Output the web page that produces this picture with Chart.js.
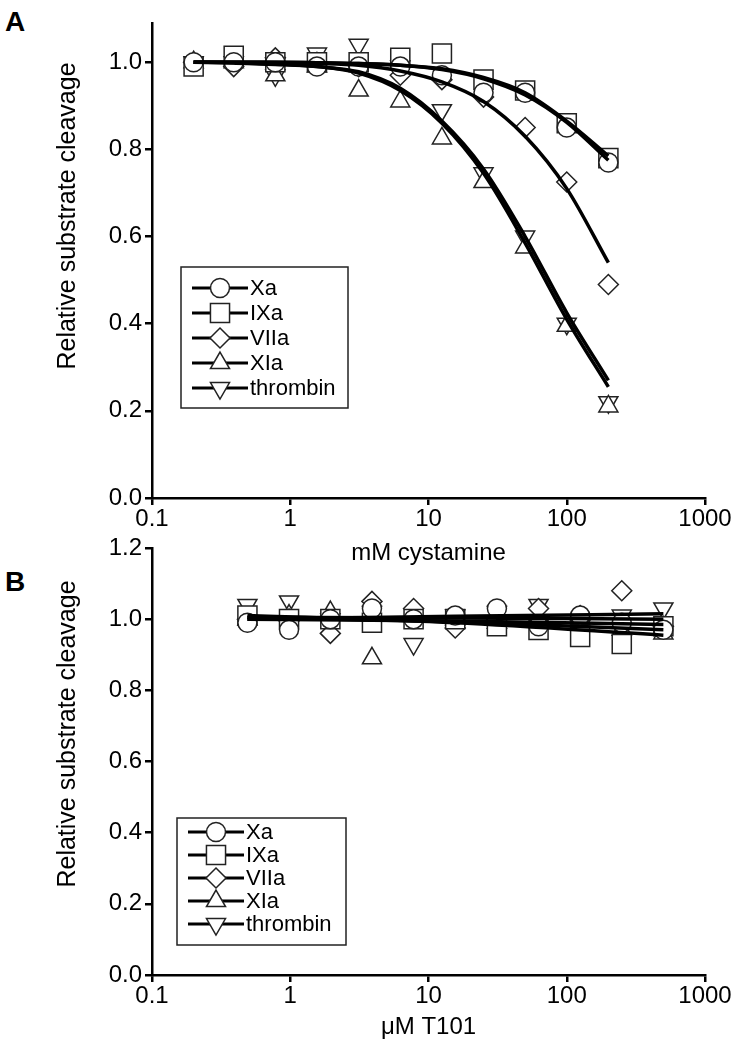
<!DOCTYPE html>
<html>
<head>
<meta charset="utf-8">
<script src="https://cdn.jsdelivr.net/npm/chart.js@4.4.0/dist/chart.umd.min.js"></script>
<style>
  body { margin: 0; background: #fff; width: 750px; height: 1046px; position: relative; overflow: hidden; font-family: "Liberation Sans", Arial, sans-serif; }
  canvas { position: absolute; left: 0; }
  #chartA { top: 0; }
  #chartB { top: 530px; }
  .tag { position: absolute; font-weight: bold; font-size: 28px; line-height: 1; }
</style>
</head>
<body>
<div class="tag" style="left:5px;top:8px">A</div>
<div class="tag" style="left:5px;top:568px">B</div>
<canvas id="chartA" width="750" height="575" style="width:750px;height:575px"></canvas>
<canvas id="chartB" width="750" height="516" style="width:750px;height:516px"></canvas>
<script>
const enzymes = ['Xa', 'IXa', 'VIIa', 'XIa', 'thrombin'];

// panel A: mM cystamine
const cystamine = [0.2, 0.39, 0.78, 1.56, 3.125, 6.25, 12.5, 25, 50, 100, 200];
const cysXa       = [1.00, 1.00, 1.00, 0.99, 0.99, 0.99, 0.97, 0.93, 0.93, 0.85, 0.77];
const cysIXa      = [0.99, 1.015, 1.00, 1.00, 1.00, 1.01, 1.02, 0.96, 0.935, 0.86, 0.78];
const cysVIIa     = [1.00, 0.99, 1.01, 1.00, 0.99, 0.97, 0.96, 0.92, 0.85, 0.725, 0.49];
const cysXIa      = [1.00, 1.00, 0.97, 0.99, 0.935, 0.91, 0.825, 0.725, 0.575, 0.395, 0.21];
const cysThrombin = [1.00, 1.00, 0.97, 1.02, 1.04, 0.99, 0.89, 0.745, 0.60, 0.40, 0.22];
const fitCysXa       = [1.0, 1.0, 1.0, 0.999, 0.997, 0.993, 0.983, 0.962, 0.925, 0.862, 0.775];
const fitCysIXa      = [1.0, 1.0, 1.0, 0.999, 0.997, 0.993, 0.985, 0.965, 0.93, 0.865, 0.785];
const fitCysVIIa     = [1.0, 1.0, 0.999, 0.997, 0.993, 0.98, 0.955, 0.91, 0.83, 0.71, 0.54];
const fitCysXIa      = [1.0, 0.998, 0.995, 0.99, 0.975, 0.935, 0.86, 0.745, 0.585, 0.41, 0.255];
const fitCysThrombin = [1.0, 0.999, 0.996, 0.99, 0.978, 0.94, 0.865, 0.755, 0.60, 0.425, 0.27];

// panel B: uM T101
const t101 = [0.49, 0.98, 1.95, 3.9, 7.8, 15.6, 31.25, 62.5, 125, 250, 500];
const t101Xa       = [0.99, 0.97, 1.00, 1.03, 1.00, 1.01, 1.03, 0.98, 1.01, 0.99, 0.97];
const t101IXa      = [1.01, 1.00, 1.00, 0.99, 1.00, 1.00, 0.98, 0.97, 0.95, 0.93, 0.98];
const t101VIIa     = [1.00, 1.00, 0.96, 1.05, 1.03, 0.975, 1.00, 1.03, 1.01, 1.08, 0.98];
const t101XIa      = [1.00, 1.01, 1.02, 0.89, 1.02, 1.00, 0.99, 1.00, 1.00, 0.97, 0.96];
const t101Thrombin = [1.04, 1.05, 1.00, 1.02, 0.93, 1.01, 1.02, 1.04, 0.98, 1.01, 1.03];
const fitT101 = [0.49, 15.6, 500];
const fitT101Xa       = [1.00, 0.995, 0.985];
const fitT101IXa      = [1.01, 0.99, 0.955];
const fitT101VIIa     = [1.005, 1.003, 1.00];
const fitT101XIa      = [1.005, 0.993, 0.97];
const fitT101Thrombin = [1.00, 1.008, 1.015];

const xTicks = [0.1, 1, 10, 100, 1000];
const yTitle = 'Relative substrate cleavage';

// marker looks
const shapes = ['circle', 'rect', 'rectRot', 'triangle', 'triangle'];
const turns = [0, 0, 0, 0, 180];
const radii = [9.5, 13.5, 10, 11, 11];

const family = '"Liberation Sans", Arial, sans-serif';
const font = { family: family, size: 24 };

function pts(xs, ys) {
  return xs.map((x, i) => ({ x: x, y: ys[i] }));
}

function buildSets(xs, rows, fitX, fitRows) {
  const sets = [];
  fitRows.forEach((ys, i) => {
    sets.push({
      label: enzymes[i] + ' fit',
      data: pts(fitX, ys),
      showLine: true,
      borderColor: '#000',
      borderWidth: 3.5,
      pointRadius: 0,
      cubicInterpolationMode: 'monotone',
      order: 0
    });
  });
  rows.forEach((ys, i) => {
    sets.push({
      label: enzymes[i],
      data: pts(xs, ys),
      showLine: false,
      pointStyle: shapes[i],
      rotation: turns[i],
      pointRadius: radii[i],
      pointBackgroundColor: '#fff',
      pointBorderColor: '#222',
      pointBorderWidth: 1.5,
      clip: false,
      order: 1
    });
  });
  return sets;
}

// boxed legend with line-through-marker keys
const boxLegend = {
  id: 'boxLegend',
  afterDraw(chart, args, o) {
    const ctx = chart.ctx;
    ctx.save();
    ctx.strokeStyle = '#222';
    ctx.lineWidth = 1.5;
    ctx.strokeRect(o.x, o.y, o.w, o.h);
    ctx.font = '22px ' + family;
    ctx.textBaseline = 'middle';
    enzymes.forEach((name, i) => {
      const cy = o.y + o.first + i * o.row;
      ctx.strokeStyle = '#000';
      ctx.lineWidth = 3;
      ctx.beginPath();
      ctx.moveTo(o.x + 11, cy);
      ctx.lineTo(o.x + 67, cy);
      ctx.stroke();
      ctx.fillStyle = '#fff';
      ctx.strokeStyle = '#222';
      ctx.lineWidth = 1.5;
      Chart.helpers.drawPoint(ctx, { pointStyle: shapes[i], rotation: turns[i], radius: radii[i], borderWidth: 1.5 }, o.x + 39, cy);
      ctx.fillStyle = '#000';
      ctx.fillText(name, o.x + 69, cy + 1);
    });
    ctx.restore();
  }
};

// y title placed by hand (it sits above the middle of the axis)
const sideTitle = {
  id: 'sideTitle',
  afterDraw(chart, args, o) {
    const ctx = chart.ctx;
    ctx.save();
    ctx.translate(o.x, o.y);
    ctx.rotate(-Math.PI / 2);
    ctx.font = '25px ' + family;
    ctx.fillStyle = '#000';
    ctx.textAlign = 'center';
    ctx.textBaseline = 'middle';
    ctx.fillText(yTitle, 0, 0);
    ctx.restore();
  }
};

function makeChart(id, sets, yMax, yTicks, xTitle, xAxisH, xTitlePad, top, legend, side) {
  return new Chart(document.getElementById(id), {
    type: 'scatter',
    data: { datasets: sets },
    plugins: [boxLegend, sideTitle],
    options: {
      responsive: false,
      animation: false,
      layout: { padding: { left: 0, right: 45, top: top, bottom: 0 } },
      plugins: { legend: { display: false }, tooltip: { enabled: false }, boxLegend: legend, sideTitle: side },
      scales: {
        x: {
          type: 'logarithmic',
          min: 0.1,
          max: 1000,
          afterBuildTicks: s => { s.ticks = xTicks.map(v => ({ value: v })); },
          afterFit: s => { s.height = xAxisH; },
          ticks: { color: '#000', font: font, padding: 0, maxRotation: 0, callback: v => String(v) },
          grid: { drawOnChartArea: false, drawTicks: true, tickLength: 7, color: '#000', lineWidth: 2.5 },
          border: { color: '#000', width: 2.5 },
          title: { display: true, text: xTitle, color: '#000', font: font, padding: { top: 0, bottom: xTitlePad } }
        },
        y: {
          min: 0,
          max: yMax,
          afterBuildTicks: s => { s.ticks = yTicks.map(v => ({ value: v })); },
          afterFit: s => { s.width = 152; },
          ticks: { color: '#000', font: font, padding: 3, callback: v => v.toFixed(1) },
          grid: { drawOnChartArea: false, drawTicks: true, tickLength: 7, color: '#000', lineWidth: 2.5 },
          border: { color: '#000', width: 2.5 },
          title: { display: false }
        }
      }
    }
  });
}

makeChart('chartA',
  buildSets(cystamine, [cysXa, cysIXa, cysVIIa, cysXIa, cysThrombin], cystamine,
    [fitCysXa, fitCysIXa, fitCysVIIa, fitCysXIa, fitCysThrombin]),
  1.09, [0, 0.2, 0.4, 0.6, 0.8, 1.0], 'mM cystamine', 77, 7, 23,
  { x: 181, y: 267, w: 167, h: 141, first: 21, row: 25 },
  { x: 68, y: 216 });

makeChart('chartB',
  buildSets(t101, [t101Xa, t101IXa, t101VIIa, t101XIa, t101Thrombin], fitT101,
    [fitT101Xa, fitT101IXa, fitT101VIIa, fitT101XIa, fitT101Thrombin]),
  1.2, [0, 0.2, 0.4, 0.6, 0.8, 1.0, 1.2], 'μM T101', 71, 4, 18,
  { x: 177, y: 288, w: 169, h: 127, first: 14, row: 23 },
  { x: 68, y: 204 });
</script>
</body>
</html>
